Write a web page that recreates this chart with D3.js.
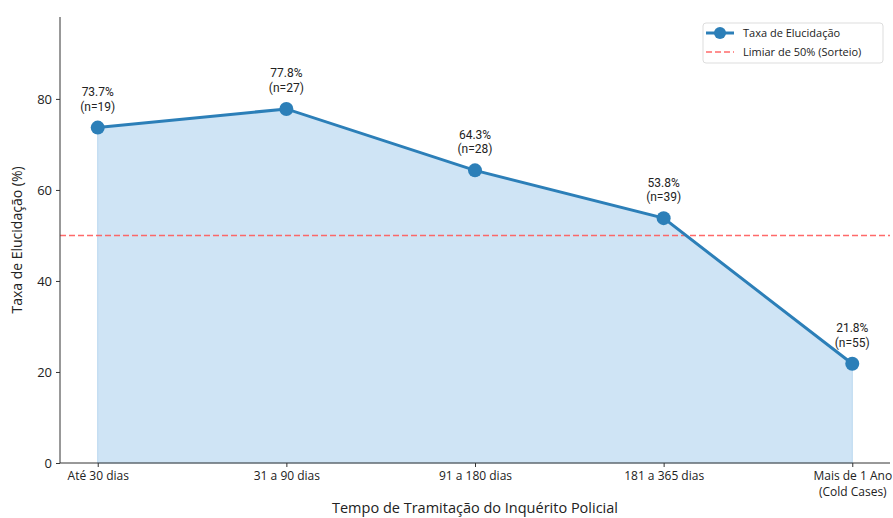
<!DOCTYPE html>
<html><head><meta charset="utf-8">
<script src="https://cdn.jsdelivr.net/npm/d3@7"></script>
<style>body{margin:0;background:#fff;} svg{display:block;font-family:"Open Sans",Roboto,sans-serif;}</style>
</head><body>
<svg id="c" width="893" height="518"></svg>
<script>
const categories = ["Até 30 dias","31 a 90 dias","91 a 180 dias","181 a 365 dias","Mais de 1 Ano\n(Cold Cases)"];
const rates = [73.7, 77.8, 64.3, 53.8, 21.8];
const counts = [19, 27, 28, 39, 55];
const yTicks = [0, 20, 40, 60, 80];
const threshold = 50;
const seriesName = "Taxa de Elucidação";
const thresholdName = "Limiar de 50% (Sorteio)";

const FONT = '"Open Sans",Roboto,sans-serif';
const svg = d3.select("#c");
const L = 60, R = 890, T = 17, B = 463;
const x = d3.scaleLinear().domain([-0.2, categories.length - 1 + 0.2]).range([L, R]);
const y = d3.scaleLinear().domain([0, 98]).range([B, T]);
const blue = "#2c7fb8";
const red = "#ff5a5a";
const data = rates.map((v,i)=>({i, v, n: counts[i]}));

// fill
svg.append("path").datum(data)
  .attr("d", d3.area().x(d=>x(d.i)).y0(y(0)).y1(d=>y(d.v)))
  .attr("fill", "#cfe4f5").attr("stroke", "#b9d7ef").attr("stroke-width", 1);

// threshold
svg.append("line").attr("x1", L).attr("x2", R).attr("y1", y(threshold)).attr("y2", y(threshold))
  .attr("stroke", red).attr("stroke-opacity", 0.9).attr("stroke-width", 1.5).attr("stroke-dasharray", "6,3");

// line
svg.append("path").datum(data)
  .attr("d", d3.line().x(d=>x(d.i)).y(d=>y(d.v)))
  .attr("fill", "none").attr("stroke", blue).attr("stroke-width", 3);
svg.selectAll("circle.pt").data(data).enter().append("circle")
  .attr("cx", d=>x(d.i)).attr("cy", d=>y(d.v)).attr("r", 7).attr("fill", blue);

// annotations (two separate lines)
const annG = svg.selectAll("g.ann").data(data).enter().append("g").attr("class", "ann");
annG.append("text").attr("text-anchor", "middle").attr("font-size", 12).attr("fill", "#222")
  .attr("font-family", "Roboto,sans-serif")
  .attr("x", d=>x(d.i)).attr("y", d=>y(d.v) - 31.5).text(d=>d.v.toFixed(1) + "%");
annG.append("text").attr("text-anchor", "middle").attr("font-size", 12).attr("fill", "#222")
  .attr("font-family", "Roboto,sans-serif")
  .attr("x", d=>x(d.i)).attr("y", d=>y(d.v) - 17).text(d=>"(n=" + d.n + ")");

// axes
const yAxis = svg.append("g").attr("transform", `translate(${L},0)`)
  .call(d3.axisLeft(y).tickValues(yTicks).tickSize(4).tickPadding(4));
yAxis.select(".domain").attr("d", `M0,${B}V${T}`).attr("stroke", "#333");
yAxis.selectAll("text").attr("font-size", 13).attr("fill", "#222").attr("font-family", FONT);
yAxis.selectAll("line").attr("stroke", "#333");

const xAxis = svg.append("g").attr("transform", `translate(0,${B})`)
  .call(d3.axisBottom(x).tickValues(d3.range(categories.length)).tickSize(4).tickPadding(3).tickFormat(""));
xAxis.select(".domain").attr("d", `M${L},0H${R}`).attr("stroke", "#333");
xAxis.selectAll("line").attr("stroke", "#333");
xAxis.selectAll(".tick").each(function(d){
  categories[d].split("\n").forEach((s,k)=>{
    d3.select(this).append("text").attr("fill", "#222").attr("font-size", 12)
      .attr("text-anchor", "middle").attr("font-family", FONT)
      .attr("x", 0).attr("y", 17 + k*16).text(s);
  });
});

// axis labels
svg.append("text").attr("x", (L+R)/2).attr("y", 513).attr("text-anchor", "middle")
  .attr("font-size", 14.5).attr("fill", "#222").text("Tempo de Tramitação do Inquérito Policial");
svg.append("text").attr("transform", `translate(22,${(T+B)/2}) rotate(-90)`).attr("text-anchor", "middle")
  .attr("font-size", 14).attr("fill", "#222").text("Taxa de Elucidação (%)");

// legend
const lg = svg.append("g").attr("transform", "translate(703,23)");
lg.append("rect").attr("width", 180).attr("height", 40).attr("rx", 3)
  .attr("fill", "#fff").attr("fill-opacity", 0.8).attr("stroke", "#ddd");
lg.append("line").attr("x1", 3).attr("x2", 31).attr("y1", 10).attr("y2", 10).attr("stroke", blue).attr("stroke-width", 3);
lg.append("circle").attr("cx", 17).attr("cy", 10).attr("r", 6).attr("fill", blue);
lg.append("line").attr("x1", 3).attr("x2", 31).attr("y1", 29).attr("y2", 29)
  .attr("stroke", red).attr("stroke-opacity", 0.9).attr("stroke-width", 1.5).attr("stroke-dasharray", "6,3");
lg.append("text").attr("x", 40).attr("y", 14).attr("font-size", 11).attr("fill", "#222").text(seriesName);
lg.append("text").attr("x", 40).attr("y", 33).attr("font-size", 11).attr("fill", "#222").text(thresholdName);
</script>
</body></html>
